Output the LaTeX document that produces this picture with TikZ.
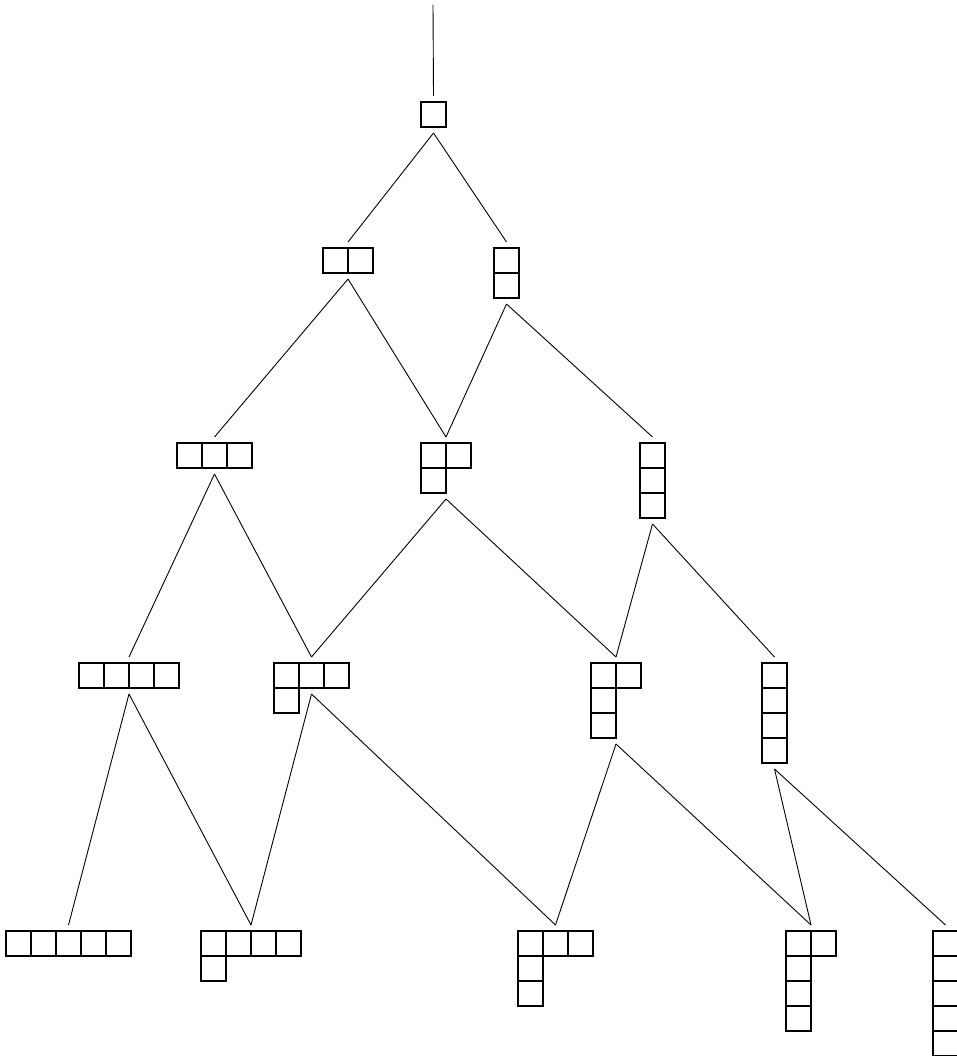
\documentclass[tikz,border=0pt]{standalone}
\newcommand\yd[6]{%
  \node[ydn, minimum width=#4*25pt, minimum height=#5*25pt] (#1) at ({#2+#4*12.5},{#3+#5*12.5}) {};
  \foreach \cx/\ry in {#6} \draw[cell] ({#2+\cx*25},{#3+\ry*25}) rectangle ++(25,25);
}
\begin{document}
\begin{tikzpicture}[x=1pt,y=-1pt,
  cell/.style={draw=black,line width=2.5pt},
  ydn/.style={rectangle,draw=none,inner sep=0pt,outer xsep=0pt,outer ysep=6pt},
  edge/.style={draw=black,line width=0.9pt}]
\useasboundingbox (0,0) rectangle (956,1056);
% diagrams
\yd{a}{421}{102}{1}{1}{0/0}
\yd{b2}{323}{248}{2}{1}{0/0,1/0}
\yd{b11}{494}{248}{1}{2}{0/0,0/1}
\yd{c3}{177}{443}{3}{1}{0/0,1/0,2/0}
\yd{c21}{421}{443}{2}{2}{0/0,1/0,0/1}
\yd{c111}{640}{443}{1}{3}{0/0,0/1,0/2}
\yd{d4}{79}{663}{4}{1}{0/0,1/0,2/0,3/0}
\yd{d31}{274}{663}{3}{2}{0/0,1/0,2/0,0/1}
\yd{d211}{591}{663}{2}{3}{0/0,1/0,0/1,0/2}
\yd{d1111}{762}{663}{1}{4}{0/0,0/1,0/2,0/3}
\yd{e5}{6}{931}{5}{1}{0/0,1/0,2/0,3/0,4/0}
\yd{e41}{201}{931}{4}{2}{0/0,1/0,2/0,3/0,0/1}
\yd{e311}{518}{931}{3}{3}{0/0,1/0,2/0,0/1,0/2}
\yd{e2111}{786}{931}{2}{4}{0/0,1/0,0/1,0/2,0/3}
\yd{e11111}{933}{931}{1}{5}{0/0,0/1,0/2,0/3,0/4}
% free ends
\coordinate (top) at (433,5);
\coordinate (d31out) at (311.5,694);
% connectors
\draw[edge] (top) -- (a.north);
\draw[edge] (a.south) -- (b2.north);
\draw[edge] (a.south) -- (b11.north);
\draw[edge] (b2.south) -- (c3.north);
\draw[edge] (b2.south) -- (c21.north);
\draw[edge] (b11.south) -- (c21.north);
\draw[edge] (b11.south) -- (c111.north);
\draw[edge] (c3.south) -- (d4.north);
\draw[edge] (c3.south) -- (d31.north);
\draw[edge] (c21.south) -- (d31.north);
\draw[edge] (c21.south) -- (d211.north);
\draw[edge] (c111.south) -- (d211.north);
\draw[edge] (c111.south) -- (d1111.north);
\draw[edge] (d4.south) -- (e5.north);
\draw[edge] (d4.south) -- (e41.north);
\draw[edge] (d31out) -- (e41.north);
\draw[edge] (d31out) -- (e311.north);
\draw[edge] (d211.south) -- (e311.north);
\draw[edge] (d211.south) -- (e2111.north);
\draw[edge] (d1111.south) -- (e2111.north);
\draw[edge] (d1111.south) -- (e11111.north);
\end{tikzpicture}
\end{document}
